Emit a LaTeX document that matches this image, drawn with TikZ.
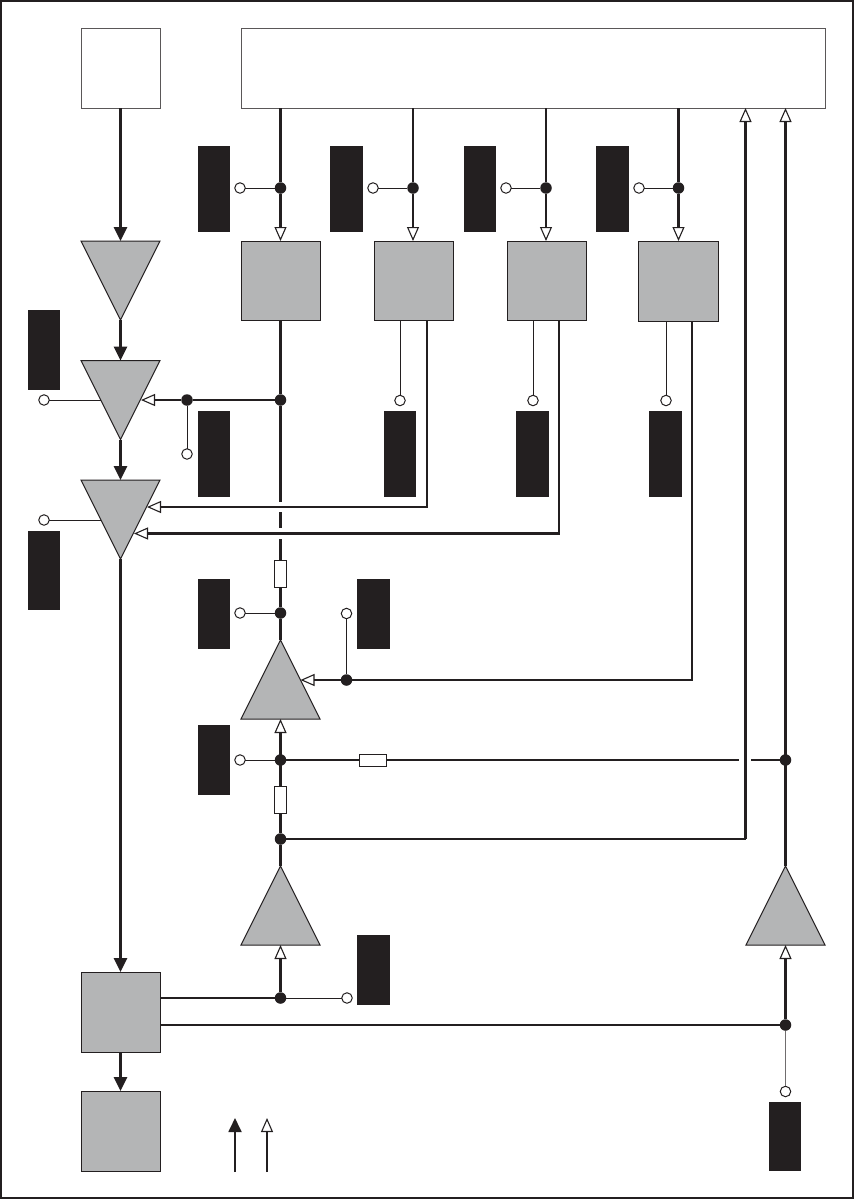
\documentclass[tikz,border=0pt]{standalone}
\usetikzlibrary{arrows.meta}
\definecolor{ink}{HTML}{231F20}
\definecolor{shade}{HTML}{B4B5B6}
\tikzset{
  boxbase/.style={rectangle,inner sep=0pt,outer sep=0pt,line width=1pt,draw=ink},
  whitebox/.style={boxbase,fill=white,draw=ink!75,minimum width=#1},
  whitebox/.default=79pt,
  grayblock/.style={boxbase,fill=shade,minimum width=79pt,minimum height=79pt},
  blackbar/.style={rectangle,inner sep=0pt,outer sep=0pt,fill=ink,minimum width=32pt},
  trihold/.style={rectangle,inner sep=0pt,outer sep=0pt,minimum width=79pt,minimum height=79pt},
  trifill/.style={fill=shade,draw=ink,line width=1pt,line join=miter},
  joint/.style={circle,fill=ink,inner sep=0pt,outer sep=0pt,minimum size=11.5pt},
  port/.style={circle,fill=white,draw=ink,line width=1pt,inner sep=0pt,outer sep=0pt,minimum size=10.5pt},
  res/.style={rectangle,fill=white,draw=ink,line width=1pt,inner sep=0pt,outer sep=0pt},
  thick line/.style={draw=ink,line width=2.8pt},
  thin line/.style={draw=ink,line width=1pt},
  solidtip/.style={-{Triangle[length=14pt,width=13pt,fill=ink]}},
  opentip/.style={-{Triangle[length=14pt,width=12pt,fill=white,line width=1.1pt,color=ink]}},
}
\newcommand{\tridn}[3]{\node[trihold] (#1) at (#2,#3) {};
  \draw[trifill] (#1.north west) -- (#1.north east) -- (#1.south) -- cycle;}
\newcommand{\triup}[3]{\node[trihold] (#1) at (#2,#3) {};
  \draw[trifill] (#1.south west) -- (#1.south east) -- (#1.north) -- cycle;}
\begin{document}
\begin{tikzpicture}[x=1pt,y=-1pt]
\useasboundingbox (0,0) rectangle (855,1202);
\fill[white] (0,0) rectangle (855,1202);
\draw[ink,line width=2pt] (1,1) rectangle (853,1198);

% top boxes
\node[whitebox,minimum height=80pt] (src) at (120.5,68) {};
\node[whitebox=584pt,minimum height=80pt] (main) at (533,68) {};

% gray blocks
\node[grayblock] (g1) at (280.5,280.5) {};
\node[grayblock] (g2) at (413.5,280.5) {};
\node[grayblock] (g3) at (546.5,280.5) {};
\node[grayblock,minimum width=80pt,minimum height=80pt] (g4) at (678.5,281) {};
\node[grayblock,minimum height=80pt] (g5) at (120.5,1012) {};
\node[grayblock,minimum height=80pt] (g6) at (120.5,1131) {};

% triangles
\tridn{t1}{120.5}{280.5}
\tridn{t2}{120.5}{400}
\tridn{t3}{120.5}{519.5}
\triup{t4}{280.5}{679.5}
\triup{t5}{280.5}{905.5}
\triup{t6}{785.5}{905.5}

% black bars
\node[blackbar,minimum height=86pt] (b1) at (214,189) {};
\node[blackbar,minimum width=33pt,minimum height=86pt] (b2) at (346.5,189) {};
\node[blackbar,minimum height=86pt] (b3) at (480,189) {};
\node[blackbar,minimum width=33pt,minimum height=86pt] (b4) at (612.5,189) {};
\node[blackbar,minimum height=80pt] (b5) at (44,350) {};
\node[blackbar,minimum height=86pt] (b6) at (214,454) {};
\node[blackbar,minimum height=86pt] (b7) at (400,454) {};
\node[blackbar,minimum width=33pt,minimum height=86pt] (b8) at (532.5,454) {};
\node[blackbar,minimum width=33pt,minimum height=86pt] (b9) at (665.5,454) {};
\node[blackbar,minimum height=79pt] (b10) at (44,570.5) {};
\node[blackbar,minimum height=70pt] (b11) at (214,614) {};
\node[blackbar,minimum width=33pt,minimum height=70pt] (b12) at (373.5,614) {};
\node[blackbar,minimum height=70pt] (b13) at (214,760) {};
\node[blackbar,minimum width=33pt,minimum height=70pt] (b14) at (373.5,970) {};
\node[blackbar,minimum height=69pt] (b15) at (785,1136.5) {};

% joints
\node[joint] (d1) at (280.5,188) {};
\node[joint] (d2) at (413,188) {};
\node[joint] (d3) at (546,188) {};
\node[joint] (d4) at (678.5,188) {};
\node[joint] (d5) at (280.5,400) {};
\node[joint] (d6) at (187,400) {};
\node[joint] (d7) at (280.5,613) {};
\node[joint] (d8) at (346.5,680) {};
\node[joint] (d9) at (280.5,760) {};
\node[joint] (d10) at (785.5,760) {};
\node[joint] (d11) at (280.5,839) {};
\node[joint] (d12) at (280.5,998) {};
\node[joint] (d13) at (785.5,1025) {};

% ports
\node[port] (p1) at (240,188) {};
\node[port] (p2) at (373,188) {};
\node[port] (p3) at (506,188) {};
\node[port] (p4) at (639,188) {};
\node[port] (p5) at (44,400) {};
\node[port] (p6) at (187,454) {};
\node[port] (p7) at (400,400.5) {};
\node[port] (p8) at (533,400.5) {};
\node[port] (p9) at (666,400.5) {};
\node[port] (p10) at (44,520) {};
\node[port] (p11) at (240,613) {};
\node[port] (p12) at (346.5,613.5) {};
\node[port] (p13) at (240,760) {};
\node[port] (p14) at (347,998) {};
\node[port] (p15) at (785.5,1091.5) {};

% resistors
\node[res,minimum width=12pt,minimum height=27pt] (r1) at (280.5,573.5) {};
\node[res,minimum width=12pt,minimum height=27pt] (r2) at (280.5,799.5) {};
\node[res,minimum width=27pt,minimum height=12pt] (r3) at (373,760) {};

% helper coordinates
\coordinate (t2e) at (141,400);
\coordinate (t2w) at (101,400);
\coordinate (t3w) at (101,520);
\coordinate (t3a) at (147,507);
\coordinate (t3b) at (134,533.5);
\coordinate (t4e) at (300.5,680);
\coordinate (c1) at (427,320);
\coordinate (c2) at (559,320);
\coordinate (c3) at (692,321);
\coordinate (c4) at (400,320);
\coordinate (c5) at (533,320);
\coordinate (c6) at (666,321);
\coordinate (g5a) at (160,998);
\coordinate (g5b) at (160,1025);
\coordinate (s1a) at (280.5,502);
\coordinate (s2a) at (280.5,512);
\coordinate (s2b) at (280.5,528);
\coordinate (s3a) at (280.5,539);
\coordinate (h1) at (739,760);
\coordinate (h2) at (751,760);
\coordinate (m1) at (745.5,108);
\coordinate (m2) at (785.5,108);
\coordinate (m3) at (745.5,839);
\coordinate (l1a) at (235,1172);
\coordinate (l1b) at (235,1118);
\coordinate (l2a) at (267,1172);
\coordinate (l2b) at (267,1118);

% signal path
\draw[thick line,solidtip] (src.south) -- (t1.north);
\draw[thick line,solidtip] (t1.south) -- (t2.north);
\draw[thick line,solidtip] (t2.south) -- (t3.north);
\draw[thick line,solidtip] (t3.south) -- (g5.north);
\draw[thick line,solidtip] (g5.south) -- (g6.north);

% bus outputs
\draw[thick line] (d1 |- main.south) -- (d1);
\draw[thick line,opentip] (d1) -- (d1 |- g1.north);
\draw[thick line] (d2 |- main.south) -- (d2);
\draw[thick line,opentip] (d2) -- (d2 |- g2.north);
\draw[thick line] (d3 |- main.south) -- (d3);
\draw[thick line,opentip] (d3) -- (d3 |- g3.north);
\draw[thick line] (d4 |- main.south) -- (d4);
\draw[thick line,opentip] (d4) -- (d4 |- g4.north);
\draw[thin line] (p1) -- (d1);
\draw[thin line] (p2) -- (d2);
\draw[thin line] (p3) -- (d3);
\draw[thin line] (p4) -- (d4);

% g1 feedback with gaps
\draw[thick line] (d5 |- g1.south) -- (d5);
\draw[thick line] (d5) -- (s1a);
\draw[thick line] (s2a) -- (s2b);
\draw[thick line] (s3a) -- (r1.north);
\draw[thick line] (r1.south) -- (d7);
\draw[thick line] (d7) -- (t4.north);
\draw[thick line] (d5) -- (d6);
\draw[thick line,opentip] (d6) -- (t2e);
\draw[thin line] (d6) -- (p6);
\draw[thin line] (p5) -- (t2w);
\draw[thin line] (p10) -- (t3w);
\draw[thin line] (p11) -- (d7);

% g2, g3, g4 links
\draw[thick line,opentip] (c1) |- (t3a);
\draw[thick line,opentip] (c2) |- (t3b);
\draw[thick line] (c3) |- (d8);
\draw[thick line,opentip] (d8) -- (t4e);
\draw[thin line] (c4) -- (p7);
\draw[thin line] (c5) -- (p8);
\draw[thin line] (c6) -- (p9);
\draw[thin line] (d8) -- (d8 |- p12.south);

% lower stage
\draw[thick line,opentip] (r2.north) -- (t4.south);
\draw[thick line] (r2.south) -- (d11);
\draw[thick line] (d11) -- (t5.north);
\draw[thin line] (p13) -- (d9);
\draw[thick line] (d9) -- (r3.west);
\draw[thick line] (r3.east) -- (h1);
\draw[thick line] (h2) -- (d10);
\draw[thick line] (d11) -| (m3);
\draw[thick line,opentip] (m3) -- (m1);
\draw[thick line,opentip] (t6.north) -- (m2);
\draw[thick line,opentip] (d12) -- (d12 |- t5.south);
\draw[thick line] (g5a) -- (d12);
\draw[thin line] (d12) -- (p14);
\draw[thick line] (g5b) -- (d13);
\draw[thick line,opentip] (d13) -- (d13 |- t6.south);
\draw[thin line,draw=ink!65] (d13) -- (p15);

% legend
\draw[draw=ink,line width=1.8pt,solidtip] (l1a) -- (l1b);
\draw[draw=ink,line width=1.8pt,opentip] (l2a) -- (l2b);
\end{tikzpicture}
\end{document}
